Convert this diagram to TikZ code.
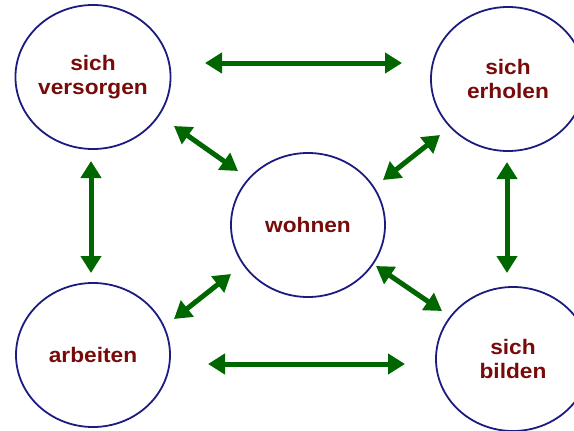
\documentclass[tikz,border=0pt]{standalone}
\usepackage{fontspec}
\setmainfont[FakeStretch=1.08]{Liberation Sans}
\usetikzlibrary{shapes.geometric,arrows.meta}
\definecolor{ringblue}{RGB}{28,28,128}
\definecolor{textred}{RGB}{120,10,10}
\definecolor{arrgreen}{RGB}{0,102,0}
\tikzset{
  ring/.style={ellipse, draw=ringblue, line width=1.8pt, minimum width=154pt, minimum height=144pt, inner sep=0pt,
    align=center, text=textred, font=\fontsize{21pt}{24pt}\selectfont\bfseries},
  arr/.style={draw=arrgreen, line width=5pt, {Triangle[length=17pt,width=20pt,fill=arrgreen]}-{Triangle[length=17pt,width=20pt,fill=arrgreen]}}
}
\begin{document}
\begin{tikzpicture}[x=1pt,y=-1pt]
\useasboundingbox (0,0) rectangle (574,431);
\node[ring] (sv) at (93,77) {sich\\versorgen};
\node[ring] (se) at (508,79) {sich\\erholen};
\node[ring] (wo) at (308,225) {wohnen};
\node[ring] (ar) at (93,355) {arbeiten};
\node[ring] (sb) at (513,359) {sich\\bilden};
\coordinate (t1) at (205,63);  \coordinate (t2) at (402,63);
\coordinate (b1) at (208,364); \coordinate (b2) at (405,364);
\coordinate (l1) at (91,161);  \coordinate (l2) at (91,273);
\coordinate (r1) at (507,162); \coordinate (r2) at (507,273);
\coordinate (d1) at (174,126); \coordinate (d2) at (238,171);
\coordinate (e1) at (440,135); \coordinate (e2) at (383,180);
\coordinate (f1) at (231,274); \coordinate (f2) at (174,319);
\coordinate (g1) at (376,266); \coordinate (g2) at (442,311);
\draw[arr] (t1) -- (t2);
\draw[arr] (b1) -- (b2);
\draw[arr] (l1) -- (l2);
\draw[arr] (r1) -- (r2);
\draw[arr] (d1) -- (d2);
\draw[arr] (e1) -- (e2);
\draw[arr] (f1) -- (f2);
\draw[arr] (g1) -- (g2);
\end{tikzpicture}
\end{document}
